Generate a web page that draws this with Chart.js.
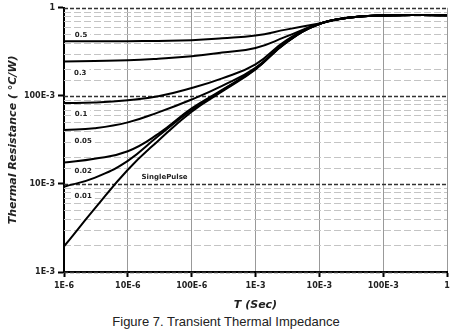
<!DOCTYPE html>
<html>
<head>
<meta charset="utf-8">
<script src="https://cdn.jsdelivr.net/npm/chart.js@4.4.1/dist/chart.umd.min.js"></script>
<style>
  html, body { margin: 0; padding: 0; background: #fff; }
  #wrap { width: 456px; height: 336px; position: relative; }
  canvas { display: block; }
  .caption {
    position: absolute; left: 0; top: 314px; width: 452px;
    text-align: center; font: 13px "Liberation Sans", Arial, sans-serif; color: #222;
  }
</style>
</head>
<body>
<div id="wrap">
  <canvas id="chart" width="456" height="312"></canvas>
  <div class="caption">Figure 7. Transient Thermal Impedance</div>
</div>
<script>
// pulse width (s)
const periods = [1e-6, 3e-6, 1e-5, 3e-5, 1e-4, 3e-4, 1e-3, 3e-3, 1e-2, 3e-2, 1e-1, 1];

// thermal resistance (°C/W) per duty cycle
const duty05 = [0.416, 0.416, 0.418, 0.421, 0.428, 0.45, 0.485, 0.565, 0.665, 0.775, 0.82, 0.825];
const duty03 = [0.246, 0.249, 0.253, 0.264, 0.282, 0.31, 0.35, 0.47, 0.66, 0.775, 0.82, 0.825];
const duty01 = [0.083, 0.084, 0.089, 0.099, 0.123, 0.158, 0.228, 0.425, 0.658, 0.775, 0.82, 0.825];
const duty005 = [0.041, 0.043, 0.05, 0.065, 0.091, 0.13, 0.208, 0.41, 0.656, 0.775, 0.82, 0.825];
const duty002 = [0.0175, 0.0193, 0.0235, 0.037, 0.072, 0.117, 0.204, 0.405, 0.655, 0.775, 0.82, 0.825];
const duty001 = [0.0093, 0.0117, 0.0183, 0.035, 0.069, 0.115, 0.202, 0.402, 0.655, 0.775, 0.82, 0.825];
const singlePulse = [0.00195, 0.0052, 0.0145, 0.031, 0.066, 0.112, 0.2, 0.4, 0.655, 0.775, 0.82, 0.825];

const seriesNames = ['0.5', '0.3', '0.1', '0.05', '0.02', '0.01', 'SinglePulse'];
const seriesValues = [duty05, duty03, duty01, duty005, duty002, duty001, singlePulse];

// curve labels, anchored in data units
const labelX = [1.85e-6, 1.8e-6, 1.85e-6, 2.0e-6, 2.0e-6, 2.0e-6, 3.76e-5];
const labelY = [0.486, 0.182, 0.0618, 0.0308, 0.0139, 0.00726, 0.0119];

const xTickLabels = ['1E-6', '10E-6', '100E-6', '1E-3', '10E-3', '100E-3', '1'];
const yTickLabels = ['1E-3', '10E-3', '100E-3', '1'];

const isDecade = v => Math.abs(Math.log10(v) - Math.round(Math.log10(v))) < 1e-9;

const tickFont = { family: 'DejaVu Sans', size: 8, weight: 'bold' };

// dashed horizontal grid + curve labels on white boxes
const gridAndLabels = {
  id: 'gridAndLabels',
  beforeDatasetsDraw(chart) {
    const { ctx, chartArea, scales } = chart;
    ctx.save();
    scales.y.ticks.forEach(t => {
      const py = Math.round(scales.y.getPixelForValue(t.value)) + 0.5;
      const major = isDecade(t.value);
      ctx.beginPath();
      ctx.setLineDash(major ? [4, 2] : [7, 3]);
      ctx.strokeStyle = major ? '#333' : '#c4c4c4';
      ctx.lineWidth = major ? 1.3 : 1;
      ctx.moveTo(chartArea.left, py);
      ctx.lineTo(chartArea.right, py);
      ctx.stroke();
    });
    ctx.setLineDash([]);
    ctx.font = 'bold 7px "DejaVu Sans"';
    ctx.textAlign = 'center';
    ctx.textBaseline = 'middle';
    seriesNames.forEach((name, i) => {
      const px = scales.x.getPixelForValue(labelX[i]);
      const py = scales.y.getPixelForValue(labelY[i]);
      const w = ctx.measureText(name).width + 6;
      ctx.fillStyle = '#fff';
      ctx.fillRect(px - w / 2, py - 6, w, 12);
      ctx.fillStyle = '#222';
      ctx.fillText(name, px, py);
    });
    ctx.restore();
  }
};

new Chart(document.getElementById('chart'), {
  type: 'scatter',
  data: {
    datasets: seriesValues.map((vals, i) => ({
      label: seriesNames[i],
      data: periods.map((p, j) => ({ x: p, y: vals[j] })),
      showLine: true,
      borderColor: '#000',
      borderWidth: 2,
      pointRadius: 0,
      tension: 0.45,
      fill: false
    }))
  },
  options: {
    responsive: false,
    animation: false,
    devicePixelRatio: 1,
    layout: { padding: { left: 0, top: 5, right: 9, bottom: 0 } },
    plugins: { legend: { display: false }, tooltip: { enabled: false } },
    scales: {
      x: {
        type: 'logarithmic',
        position: 'bottom',
        min: 1e-6,
        max: 1,
        afterBuildTicks: scale => {
          scale.ticks = scale.ticks.filter(t => isDecade(t.value));
        },
        afterFit: scale => { scale.height = 40; },
        ticks: {
          autoSkip: false,
          maxRotation: 0,
          padding: 4,
          color: '#222',
          font: tickFont,
          callback: v => xTickLabels[Math.round(Math.log10(v)) + 6]
        },
        grid: {
          color: '#999',
          lineWidth: 1,
          tickLength: 5,
          tickColor: '#000',
          tickWidth: 2
        },
        border: { color: '#000', width: 2 },
        title: {
          display: true,
          text: 'T (Sec)',
          color: '#222',
          font: { family: 'DejaVu Sans', size: 11, weight: 'bold', style: 'italic' },
          padding: { top: 0, bottom: 0 }
        }
      },
      y: {
        type: 'logarithmic',
        min: 1e-3,
        max: 1,
        afterFit: scale => { scale.width = 64; },
        ticks: {
          autoSkip: false,
          padding: 3,
          color: '#222',
          font: tickFont,
          callback: v => isDecade(v) ? yTickLabels[Math.round(Math.log10(v)) + 3] : ''
        },
        grid: {
          drawOnChartArea: false,
          tickLength: 6,
          tickWidth: 2,
          tickColor: c => (c.tick && isDecade(c.tick.value)) ? '#000' : 'rgba(0,0,0,0)'
        },
        border: { color: '#000', width: 2 },
        title: {
          display: true,
          text: 'Thermal Resistance ( °C/W)',
          color: '#222',
          font: { family: 'DejaVu Sans', size: 11, weight: 'bold', style: 'italic' },
          padding: { top: 7, bottom: 0 }
        }
      }
    }
  },
  plugins: [gridAndLabels]
});
</script>
</body>
</html>
